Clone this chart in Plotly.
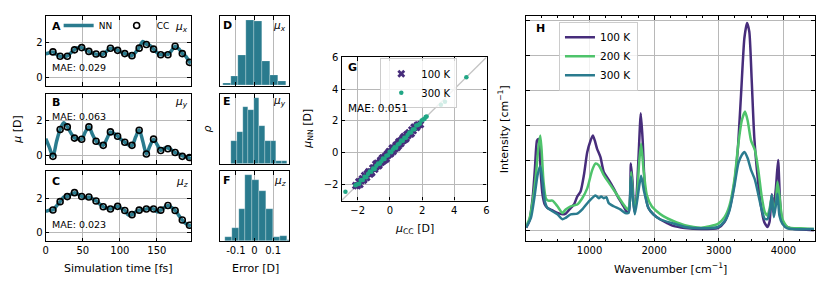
import plotly.graph_objects as go

# page body has an 8px margin, so the figure is 822x280 and placed at (8, 8)
OX, OY = 8, 8
W, H = 822, 280
FONT = "DejaVu Sans"
TEAL = "#2a7b8e"
PURPLE = "#472d7b"
GREEN = "#4ec36b"
SEA = "#21a685"

# ---------------- Panels A-C: dipole time series ----------------
t_cc = [9.7, 19.4, 29.1, 38.8, 48.5, 58.2, 67.9, 77.6, 87.3, 97.0, 106.7, 116.4,
        126.1, 135.8, 145.5, 155.2, 164.9, 174.6, 184.3, 194.0]
cc_x = [1.47, 1.22, 1.22, 1.59, 1.72, 1.50, 1.35, 1.33, 1.68, 1.56, 1.37, 1.25,
        1.69, 1.90, 1.63, 1.30, 1.30, 1.80, 1.37, 0.86]
cc_y = [-0.07, 1.49, 1.64, 0.99, 0.92, 1.64, 0.81, 0.57, 1.35, 1.10, 0.75, 0.57,
        1.45, 0.07, 0.93, 0.27, 0.37, 0.15, -0.07, -0.14]
cc_z = [1.31, 1.79, 2.08, 2.31, 2.09, 2.06, 1.83, 1.50, 1.37, 1.52, 1.28, 1.04,
        1.30, 1.37, 1.37, 1.30, 1.57, 1.28, 0.73, 0.43]

t_nn = [0, 4.9, 9.7, 14.6, 19.4, 24.3, 29.1, 34.0, 38.8, 43.7, 48.5, 53.4, 58.2,
        63.1, 67.9, 72.8, 77.6, 82.5, 87.3, 92.2, 97.0, 101.9, 106.7, 111.6, 116.4,
        121.3, 126.1, 131.0, 135.8, 140.7, 145.5, 150.4, 155.2, 160.1, 164.9, 169.8,
        174.6, 179.5, 184.3, 189.2, 194.0, 196.0]
nn_x = [1.36, 1.42, 1.47, 1.32, 1.22, 1.20, 1.24, 1.42, 1.60, 1.72, 1.72, 1.60, 1.50,
        1.40, 1.34, 1.30, 1.34, 1.52, 1.68, 1.64, 1.56, 1.45, 1.37, 1.30, 1.25, 1.45,
        1.72, 2.08, 1.92, 1.85, 1.62, 1.42, 1.30, 1.36, 1.32, 1.55, 1.80, 1.65, 1.38,
        1.20, 0.88, 0.80]
nn_y = [0.95, 0.45, -0.08, 0.80, 1.50, 1.88, 1.65, 1.28, 1.00, 0.95, 0.92, 1.35, 1.65,
        1.20, 0.82, 0.65, 0.57, 0.95, 1.35, 1.25, 1.10, 0.90, 0.75, 0.60, 0.55, 1.05,
        1.48, 0.80, 0.07, 0.55, 0.93, 0.60, 0.28, 0.40, 0.42, 0.30, 0.15, 0.08, -0.05,
        -0.10, -0.16, -0.20]
nn_z = [1.22, 1.30, 1.31, 1.55, 1.79, 2.05, 2.08, 2.22, 2.31, 2.22, 2.09, 2.02, 2.06,
        1.95, 1.83, 1.65, 1.50, 1.42, 1.37, 1.45, 1.52, 1.40, 1.28, 1.02, 1.04, 1.20,
        1.30, 1.33, 1.37, 1.40, 1.37, 1.20, 1.30, 1.45, 1.57, 1.45, 1.28, 1.00, 0.73,
        0.52, 0.42, 0.38]
mae_series = ["MAE: 0.029", "MAE: 0.063", "MAE: 0.023"]
comp_labels = ["<i>μ<sub>x</sub></i>", "<i>μ<sub>y</sub></i>", "<i>μ<sub>z</sub></i>"]
time_ticks = [0, 50, 100, 150]

# ---------------- Panels D-F: error histograms ----------------
d_edges = [-0.171, -0.128, -0.086, -0.043, 0.0, 0.043, 0.086, 0.128, 0.171]
d_counts = [7, 28, 93, 198, 194, 75, 33, 14]
e_edges = [-0.125, -0.095, -0.064, -0.034, -0.004, 0.027, 0.057, 0.087, 0.118, 0.148, 0.178]
e_counts = [67, 95, 170, 162, 199, 115, 67, 67, 8, 8]
f_edges = [-0.160, -0.123, -0.085, -0.048, -0.011, 0.027, 0.064, 0.101, 0.139, 0.176, 0.213]
f_counts = [12, 41, 97, 198, 184, 149, 95, 13, 17, 4]
err_ticks = [-0.1, 0, 0.1]
err_ticklabels = ["-0.1", "0", "0.1"]

# ---------------- Panel G: parity plot ----------------
g100_cc = [-2.12, -2.02, -1.93, -1.86, -1.78, -1.71, -1.64, -1.57, -1.5, -1.44, -1.37, -1.31,
           -1.25, -1.18, -1.12, -1.06, -1.0, -0.94, -0.88, -0.82, -0.76, -0.7, -0.64, -0.58,
           -0.52, -0.46, -0.4, -0.34, -0.28, -0.22, -0.16, -0.1, -0.04, 0.02, 0.08, 0.14,
           0.2, 0.26, 0.32, 0.38, 0.44, 0.5, 0.56, 0.62, 0.68, 0.74, 0.8, 0.86, 0.92, 0.98,
           1.05, 1.12, 1.2, 1.28, 1.36, 1.45, 1.55, 1.66, 1.78, 1.9,
           -1.62, -1.41, -1.22, -1.03, -0.91, -0.79, -0.67, -0.55, -0.43, -0.31, -0.19, -0.07,
           0.05, 0.17, 0.29, 0.41, 0.53, 0.65, 0.77, 0.89, 1.01, 1.16, 1.33, 1.5, 1.7]
g100_nn = [-2.05, -2.07, -1.81, -1.99, -1.76, -1.62, -1.72, -1.42, -1.52, -1.55, -1.32, -1.18,
           -1.31, -1.18, -1.26, -0.96, -0.96, -1.03, -0.72, -0.85, -0.68, -0.82, -0.63, -0.47,
           -0.59, -0.32, -0.5, -0.31, -0.22, -0.37, -0.07, -0.14, 0.08, -0.06, 0.08, 0.29,
           0.08, 0.31, 0.30, 0.48, 0.31, 0.57, 0.69, 0.57, 0.58, 0.78, 0.91, 0.79, 0.94, 0.86,
           1.14, 1.09, 1.26, 1.18, 1.44, 1.39, 1.6, 1.58, 1.74, 1.78,
           -1.66, -1.31, -1.34, -0.97, -0.93, -0.66, -0.76, -0.52, -0.32, -0.44, -0.19, 0.01,
           -0.05, 0.29, 0.24, 0.43, 0.42, 0.74, 0.74, 1.03, 0.93, 1.21, 1.21, 1.6, 1.73]
g300_cc = [-2.76, -2.14, -2.02, -1.9, -1.8, -1.68, -1.57, -1.46, -1.36, -1.25, -1.15, -1.04,
           -0.94, -0.84, -0.73, -0.63, -0.53, -0.43, -0.33, -0.22, -0.12, -0.02, 0.08, 0.19,
           0.29, 0.39, 0.49, 0.6, 0.7, 0.8, 0.9, 1.0, 1.1, 1.21, 1.31, 1.42, 1.53, 1.64, 1.75,
           1.86, 1.97, 2.07, 2.15, 2.22, 2.28, 3.17, 3.42, 4.75]
g300_nn = [-2.44, -2.03, -1.98, -1.95, -1.73, -1.70, -1.51, -1.53, -1.33, -1.17, -1.19, -0.99,
           -1.02, -0.82, -0.67, -0.68, -0.53, -0.36, -0.39, -0.18, -0.15, 0.06, 0.03, 0.20,
           0.35, 0.32, 0.52, 0.58, 0.77, 0.76, 0.95, 0.94, 1.12, 1.27, 1.28, 1.46, 1.48, 1.71,
           1.75, 1.82, 2.02, 2.09, 2.12, 2.25, 2.28, 3.01, 3.21, 4.74]
g_limits = [-3, 6]
g_ticks = [-2, 0, 2, 4, 6]

# ---------------- Panel H: IR spectra ----------------
wn_100 = [20, 68, 119, 155, 186, 206, 221, 247, 273, 308, 349, 426, 503, 580, 631, 708, 759,
          810, 861, 913, 964, 1015, 1051, 1082, 1117, 1169, 1220, 1297, 1373, 1450, 1527,
          1578, 1609, 1640, 1665, 1691, 1721, 1757, 1793, 1824, 1860, 1911, 1988, 2090, 2193,
          2295, 2474, 2730, 2986, 3088, 3165, 3242, 3293, 3344, 3396, 3437, 3472, 3508, 3549,
          3600, 3652, 3703, 3754, 3785, 3820, 3846, 3882, 3918, 3949, 3984, 4061, 4164, 4471]
ir_100 = [0.09, 0.28, 0.93, 1.78, 2.57, 2.62, 2.52, 1.59, 1.03, 0.75, 0.65, 0.58, 0.51, 0.47,
          0.49, 0.65, 0.75, 0.98, 1.12, 1.59, 2.24, 2.57, 2.72, 2.57, 2.34, 2.10, 1.68, 1.45,
          1.21, 0.93, 0.70, 0.54, 0.56, 1.92, 1.40, 0.56, 0.84, 2.06, 3.35, 2.52, 1.12, 0.65,
          0.47, 0.33, 0.23, 0.14, 0.08, 0.05, 0.08, 0.25, 0.62, 1.37, 2.30, 3.88, 5.50, 5.93,
          5.68, 4.35, 2.67, 1.55, 0.72, 0.25, 0.11, 0.25, 1.04, 0.62, 1.18, 2.02, 0.81, 0.25,
          0.11, 0.05, 0.02]
wn_200 = [17, 68, 119, 170, 206, 237, 257, 288, 324, 360, 426, 503, 580, 631, 708, 810, 887,
          964, 1041, 1092, 1143, 1220, 1322, 1425, 1527, 1588, 1619, 1645, 1670, 1696, 1732,
          1768, 1798, 1834, 1885, 1962, 2039, 2141, 2295, 2474, 2730, 2986, 3088, 3165, 3242,
          3303, 3355, 3406, 3447, 3498, 3559, 3611, 3662, 3713, 3754, 3795, 3820, 3846, 3882,
          3908, 3938, 3984, 4061, 4266, 4471]
ir_200 = [0.14, 0.33, 0.84, 1.59, 2.34, 2.72, 2.34, 1.40, 0.93, 0.86, 0.86, 0.70, 0.51, 0.61,
          0.70, 0.75, 0.93, 1.21, 1.73, 1.92, 1.87, 1.59, 1.31, 1.03, 0.75, 0.61, 0.75, 1.68,
          1.03, 0.61, 0.93, 1.96, 2.48, 1.78, 1.03, 0.70, 0.56, 0.42, 0.28, 0.16, 0.09, 0.20,
          0.39, 0.72, 1.46, 2.49, 3.14, 3.40, 3.14, 2.58, 2.30, 1.74, 1.00, 0.53, 0.44, 0.72,
          1.00, 0.53, 0.81, 1.40, 1.00, 0.34, 0.11, 0.07, 0.05]
wn_300 = [17, 93, 145, 196, 237, 273, 308, 349, 426, 503, 580, 631, 708, 810, 887, 990, 1092,
          1143, 1180, 1220, 1260, 1297, 1373, 1476, 1553, 1604, 1640, 1670, 1701, 1742, 1798,
          1844, 1911, 1988, 2090, 2295, 2474, 2730, 2986, 3088, 3165, 3242, 3303, 3355, 3396,
          3447, 3498, 3559, 3611, 3662, 3713, 3754, 3795, 3820, 3851, 3882, 3908, 3938, 3984,
          4061, 4471]
ir_300 = [0.09, 0.37, 0.93, 1.59, 1.85, 1.40, 0.84, 0.65, 0.56, 0.47, 0.33, 0.37, 0.47, 0.49,
          0.61, 0.84, 1.01, 0.93, 0.98, 0.93, 0.96, 0.79, 0.70, 0.61, 0.51, 0.51, 1.55, 0.93,
          0.47, 0.93, 1.57, 1.12, 0.65, 0.47, 0.33, 0.21, 0.11, 0.07, 0.11, 0.27, 0.58, 1.28,
          1.93, 2.16, 2.25, 2.07, 1.74, 1.46, 1.04, 0.62, 0.34, 0.34, 0.62, 1.02, 0.39, 0.72,
          1.06, 0.44, 0.20, 0.07, 0.05]
wn_ticks = [1000, 2000, 3000, 4000]
temps = ["100 K", "200 K", "300 K"]


def px(x):
    return (x - OX) / W


def py(y):
    return 1 - (y - OY) / H


fig = go.Figure()

# A-C
series = [(nn_x, cc_x), (nn_y, cc_y), (nn_z, cc_z)]
for i, (nn, cc) in enumerate(series):
    ax = "" if i == 0 else str(i + 1)
    fig.add_trace(go.Scatter(x=t_nn, y=nn, mode="lines", name="NN",
                             line=dict(color=TEAL, width=3.5, shape="spline", smoothing=0.8),
                             xaxis="x" + ax, yaxis="y" + ax, showlegend=(i == 0),
                             legend="legend"))
    fig.add_trace(go.Scatter(x=t_cc, y=cc, mode="markers", name="CC",
                             marker=dict(symbol="circle-open", size=6, color="black",
                                         line=dict(width=1.6)),
                             xaxis="x" + ax, yaxis="y" + ax, showlegend=(i == 0),
                             legend="legend"))

# D-F
for i, (edges, counts) in enumerate([(d_edges, d_counts), (e_edges, e_counts), (f_edges, f_counts)]):
    ax = str(i + 4)
    centers = [(edges[k] + edges[k + 1]) / 2 for k in range(len(counts))]
    widths = [edges[k + 1] - edges[k] for k in range(len(counts))]
    fig.add_trace(go.Bar(x=centers, y=counts, width=widths, marker=dict(
        color=TEAL, line=dict(color="rgba(255,255,255,0.35)", width=0.7)),
        xaxis="x" + ax, yaxis="y" + ax, showlegend=False))

# G
fig.add_trace(go.Scatter(x=g_limits, y=g_limits, mode="lines",
                         line=dict(color="#c4c4c4", width=1.3), xaxis="x7", yaxis="y7",
                         showlegend=False))
fig.add_trace(go.Scatter(x=g100_cc, y=g100_nn, mode="markers", name="100 K",
                         marker=dict(symbol="x", size=7, color=PURPLE, line=dict(width=0)),
                         xaxis="x7", yaxis="y7", legend="legend2"))
fig.add_trace(go.Scatter(x=g300_cc, y=g300_nn, mode="markers", name="300 K",
                         marker=dict(symbol="circle", size=4.5, color=SEA, line=dict(width=0)),
                         xaxis="x7", yaxis="y7", legend="legend2"))

# H
for name, wn, ir, col in zip(temps, [wn_100, wn_200, wn_300], [ir_100, ir_200, ir_300],
                             [PURPLE, GREEN, TEAL]):
    fig.add_trace(go.Scatter(x=wn, y=ir, mode="lines", name=name,
                             line=dict(color=col, width=2.5, shape="spline", smoothing=0.6),
                             xaxis="x8", yaxis="y8", legend="legend3"))

tickfont = dict(size=10, color="black", family=FONT)
base = dict(showline=True, linecolor="black", linewidth=1.3, mirror="ticks", ticks="inside",
            ticklen=3.5, tickwidth=1, tickcolor="black", gridcolor="#b8b8b8", gridwidth=1,
            zeroline=False, tickfont=tickfont, showgrid=True)

rowsA = [(11.3, 82), (90.5, 161.5), (169, 240.5)]
layout = {}
for i, (top, bot) in enumerate(rowsA):
    n = "" if i == 0 else str(i + 1)
    layout["xaxis" + n] = dict(base, domain=[px(43), px(189.3)], range=[0, 196],
                               tickvals=time_ticks, showticklabels=(i == 2),
                               anchor="y" + n)
    layout["yaxis" + n] = dict(base, domain=[py(bot), py(top)], range=[-0.5, 3.55],
                               tickvals=[0, 2], anchor="x" + n)
    m = str(i + 4)
    layout["xaxis" + m] = dict(base, domain=[px(218.7), px(288)], range=[-0.185, 0.185],
                               tickvals=err_ticks, ticktext=err_ticklabels,
                               showticklabels=(i == 2), anchor="y" + m)
    layout["yaxis" + m] = dict(base, domain=[py(bot), py(top)], range=[0, 210],
                               showgrid=False, showticklabels=False, ticks="",
                               anchor="x" + m)

layout["xaxis7"] = dict(base, domain=[px(341), px(487)], range=g_limits, tickvals=g_ticks,
                        anchor="y7")
layout["yaxis7"] = dict(base, domain=[py(199), py(53)], range=g_limits, tickvals=g_ticks,
                        anchor="x7")
layout["xaxis8"] = dict(base, domain=[px(527), px(818)], range=[20, 4490], tickvals=wn_ticks,
                        minor=dict(dtick=250, tick0=0, ticks="inside", ticklen=2,
                                   tickcolor="black", showgrid=False),
                        anchor="y8")
layout["yaxis8"] = dict(base, domain=[py(240.5), py(11.3)], range=[-0.3, 6.12],
                        tickvals=[0, 1, 2, 3, 4, 5, 6], showticklabels=False, anchor="x8")

legend_style = dict(bgcolor="rgba(255,255,255,0.8)", bordercolor="#cccccc", borderwidth=1,
                    font=dict(size=10.5, color="black", family=FONT), xanchor="left",
                    yanchor="top", tracegroupgap=0, itemwidth=30)
layout["legend"] = dict(legend_style, x=px(56), y=py(6), orientation="h",
                        entrywidth=13, bgcolor="rgba(255,255,255,0)",
                        bordercolor="rgba(0,0,0,0)", borderwidth=0,
                        font=dict(size=9, color="black", family=FONT))
layout["legend2"] = dict(legend_style, x=px(380), y=py(54), font=dict(size=10, color="black",
                                                                        family=FONT))
layout["legend3"] = dict(legend_style, x=px(560), y=py(17))

fig.update_layout(width=W, height=H, margin=dict(l=0, r=0, t=0, b=0), autosize=False,
                  plot_bgcolor="white", paper_bgcolor="white", bargap=0,
                  font=dict(family=FONT, size=10, color="black"), **layout)


def text(s, x, y, xanchor="left", size=10, angle=0):
    fig.add_annotation(text=s, x=px(x), y=py(y), xref="paper", yref="paper",
                       xanchor=xanchor, yanchor="middle", showarrow=False, textangle=angle,
                       font=dict(size=size, family=FONT, color="black"))


label_ys = [22, 99, 180]
mae_ys = [64, 113, 223]
for i in range(3):
    text("<b>" + "ABC"[i] + "</b>", 47, label_ys[i], size=11)
    text(comp_labels[i], 188, label_ys[i], xanchor="right", size=10.5)
    text(mae_series[i], 47, mae_ys[i], size=9.5)
    text("<b>" + "DEF"[i] + "</b>", 220, label_ys[i] - 1, size=11)
    text(comp_labels[i], 287, label_ys[i] - 1, xanchor="right", size=10.5)

text("<b>G</b>", 345, 64, size=11)
text("MAE: 0.051", 345, 105, size=10.5)
text("<b>H</b>", 535, 24, size=11)

text("<i>μ</i> [D]", 15, 126, xanchor="center", angle=-90, size=11)
text("Simulation time [fs]", 116, 268, xanchor="center", size=11)
text("<i>ρ</i>", 206, 126, xanchor="center", angle=-90, size=11)
text("Error [D]", 254, 268, xanchor="center", size=11)
text("<i>μ</i><sub>NN</sub> [D]", 307, 126, xanchor="center", angle=-90, size=11)
text("<i>μ</i><sub>CC</sub> [D]", 414, 228, xanchor="center", size=11)
text("Intensity [cm<sup>−1</sup>]", 505, 126, xanchor="center", angle=-90, size=11)
text("Wavenumber [cm<sup>−1</sup>]", 672, 268, xanchor="center", size=11)

fig.write_html("out.html")
